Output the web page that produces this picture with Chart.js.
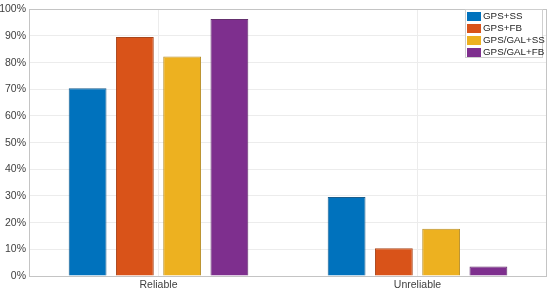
<!DOCTYPE html>
<html>
<head>
<meta charset="utf-8">
<script src="https://cdn.jsdelivr.net/npm/chart.js@4"></script>
<style>
  html, body { margin: 0; padding: 0; background: #fff; }
  #wrap { width: 550px; height: 293px; }
</style>
</head>
<body>
<div id="wrap"><canvas id="barchart"></canvas></div>
<script>
const labels = ['Reliable', 'Unreliable'];
const gpsSS = [70.4, 29.6];
const gpsFB = [89.6, 10.4];
const galSS = [82.3, 17.7];
const galFB = [96.4, 3.6];
const yTicks = [0, 10, 20, 30, 40, 50, 60, 70, 80, 90, 100];

// frame around the plot area + legend box inside it (top right)
const frameLegend = {
    id: 'frameLegend',
    afterDraw(chart) {
        const c = chart.ctx;
        const a = chart.chartArea;
        c.save();
        c.strokeStyle = '#c4c4c4';
        c.lineWidth = 1;
        c.strokeRect(Math.round(a.left) + 0.5, Math.round(a.top) + 0.5,
            Math.round(a.right - a.left) - 1, Math.round(a.bottom - a.top));

        const x = 465, y = 9, w = 77, h = 48;
        c.fillStyle = '#fff';
        c.fillRect(x, y, w, h);
        c.strokeStyle = '#cfcfcf';
        c.strokeRect(x + 0.5, y + 0.5, w, h);
        c.font = '9.8px "Liberation Sans", Arial, sans-serif';
        c.textBaseline = 'middle';
        chart.data.datasets.forEach((ds, i) => {
            const cy = y + 7 + i * 12;
            c.fillStyle = ds.backgroundColor;
            c.fillRect(x + 2, cy - 4, 14, 9);
            c.fillStyle = '#262626';
            c.fillText(ds.label, x + 18, cy + 0.5);
        });
        c.restore();
    }
};

const ctxbar = document.getElementById('barchart').getContext('2d');
const myChartbar = new Chart(ctxbar, {
    type: 'bar',
    data: {
        labels: labels,
        datasets: [
            { label: 'GPS+SS', data: gpsSS, backgroundColor: '#0072BD', borderColor: '#1a5d8c' },
            { label: 'GPS+FB', data: gpsFB, backgroundColor: '#D95319', borderColor: '#a8461c' },
            { label: 'GPS/GAL+SS', data: galSS, backgroundColor: '#EDB120', borderColor: '#b8902c' },
            { label: 'GPS/GAL+FB', data: galFB, backgroundColor: '#7E2F8E', borderColor: '#64306e' }
        ]
    },
    options: {
        responsive: true,
        maintainAspectRatio: false,
        animation: false,
        datasets: {
            bar: { categoryPercentage: 0.73, barPercentage: 0.8, borderWidth: 1 }
        },
        layout: { padding: { top: 4, right: 3, left: 0, bottom: 0 } },
        plugins: {
            legend: { display: false },
            tooltip: { enabled: false }
        },
        scales: {
            x: {
                grid: { offset: false, color: '#ececec', drawTicks: false },
                border: { display: false },
                ticks: {
                    color: '#404040',
                    padding: 3,
                    font: { family: '"Liberation Sans", Arial, sans-serif', size: 10.5 }
                },
                afterFit(scale) { scale.height = 17; }
            },
            y: {
                min: 0,
                max: 100,
                afterBuildTicks(scale) { scale.ticks = yTicks.map(v => ({ value: v })); },
                grid: { color: '#ececec', drawTicks: false },
                border: { display: false },
                ticks: {
                    color: '#404040',
                    padding: 3,
                    font: { family: '"Liberation Sans", Arial, sans-serif', size: 10.5 },
                    callback: v => v + '%'
                },
                afterFit(scale) { scale.width = 29; }
            }
        }
    },
    plugins: [frameLegend]
});
</script>
</body>
</html>
